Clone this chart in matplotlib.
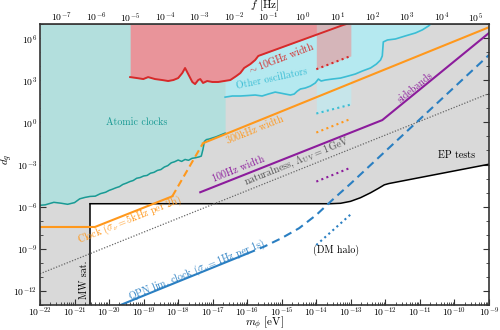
import matplotlib
matplotlib.use("Agg")
import matplotlib.pyplot as plt
import numpy as np
from matplotlib.ticker import LogLocator, FixedLocator, NullFormatter

plt.rcParams.update({
    "font.family": "serif",
    "font.serif": ["cmr10"],
    "mathtext.fontset": "cm",
    "axes.formatter.use_mathtext": True,
    "axes.unicode_minus": False,
    "font.size": 8,
})

# all curves stored as log10(m_phi / eV), log10(d_g)
atomic_m = [-22.0, -21.85, -21.6, -21.4, -21.2, -21.0, -20.85, -20.7, -20.55, -20.4,
            -20.25, -20.1, -20.0, -19.9, -19.8, -19.7, -19.6, -19.5, -19.4, -19.3,
            -19.2, -19.1, -19.0, -18.9, -18.8, -18.7, -18.6, -18.5, -18.4, -18.3,
            -18.2, -18.1, -18.0, -17.9, -17.8, -17.7, -17.6, -17.5, -17.4, -17.33,
            -17.28, -17.24, -17.18, -17.1, -17.0, -16.9, -16.8, -16.7, -16.64]
atomic_d = [-5.91, -5.88, -5.70, -5.76, -5.84, -5.72, -5.45, -5.35, -5.28, -5.26,
            -5.08, -4.98, -4.85, -4.76, -4.66, -4.58, -4.42, -4.33, -4.22, -4.14,
            -3.98, -3.93, -3.82, -3.78, -3.62, -3.56, -3.42, -3.36, -3.18, -3.08,
            -2.88, -2.80, -2.68, -2.78, -2.64, -2.70, -2.56, -2.52, -2.46, -2.40,
            -1.90, -1.35, -1.22, -1.18, -1.10, -1.02, -0.92, -0.82, -0.76]

ghz_m = [-19.39, -19.19, -19.01, -18.87, -18.67, -18.46, -18.29, -18.14, -18.0, -17.88,
         -17.80, -17.71, -17.59, -17.51, -17.42, -17.36, -17.28, -17.16, -17.01, -16.84,
         -16.67, -16.49, -16.32, -16.20, -16.09, -16.0, -15.91, -15.77, -15.68, -13.22, -13.1]
ghz_d = [3.24, 3.17, 3.10, 3.24, 3.10, 3.03, 2.96, 3.03, 3.17, 3.53,
         3.89, 3.46, 2.89, 2.74, 3.03, 3.10, 2.82, 2.96, 2.89, 2.89,
         2.96, 3.03, 3.31, 3.53, 3.89, 4.03, 4.17, 4.46, 4.75, 6.96, 7.05]

osc_m = [-16.64, -16.43, -16.20, -16.0, -15.77, -15.57, -15.39, -15.19, -15.04, -14.90,
         -14.75, -14.64, -14.55, -14.46, -14.32, -14.17, -14.03, -13.94, -13.86, -13.74,
         -13.54, -13.30, -13.07, -12.87, -12.67, -12.43, -12.26, -12.14, -12.09, -12.06,
         -11.94, -11.71, -11.42, -11.13, -10.93, -10.75, -10.68]
osc_d = [1.81, 1.89, 1.89, 1.92, 1.96, 1.89, 2.03, 2.17, 2.10, 2.03,
         1.96, 2.03, 2.24, 2.39, 2.46, 2.60, 2.82, 3.10, 2.96, 3.03,
         3.10, 3.17, 3.32, 3.46, 3.67, 3.89, 4.17, 4.46, 4.75, 5.75,
         5.89, 5.96, 6.18, 6.39, 6.61, 6.89, 7.05]

clock_m = [-22.0, -20.41, -18.17]
clock_d = [-7.46, -7.46, -5.27]
clock_gap_m = [-18.17, -17.28]
clock_gap_d = [-5.27, -1.48]
khz300_m = [-17.28, -9.0]
khz300_d = [-1.48, 6.80]

hz100_m = [-17.36, -12.09, -9.0]
hz100_d = [-4.98, 0.17, 6.39]

qpn_m = [-19.8, -16.0]
qpn_d = [-13.16, -9.36]
qpn_ext_m = [-16.0, -15.5, -15.0, -14.5, -14.0, -13.5, -13.0, -12.5, -9.0]
qpn_ext_d = [-9.36, -8.85, -8.25, -7.55, -6.60, -5.45, -4.35, -3.20, 4.82]

natural_m = [-22.0, -9.0]
natural_d = [-10.8, 2.07]

mw_sat_m = -20.55
ep_m = [-20.55, -13.59, -13.30, -13.01, -12.72, -12.43, -12.20, -12.03, -11.90, -9.0]
ep_d = [-5.80, -5.80, -5.77, -5.63, -5.37, -5.02, -4.70, -4.45, -4.36, -2.98]

# DM-halo projections between 1e-14 and 1e-13 eV
halo_m = [-14.0, -13.0]
halo_ghz_d = [3.80, 4.75]
halo_osc_d = [0.64, 1.28]
halo_khz_d = [-0.72, 0.26]
halo_hz_d = [-4.22, -3.22]
halo_qpn_d = [-8.75, -6.55]

GRAY = "#d9d9d9"
TEAL_FILL, TEAL = "#b3dfdd", "#1a9a94"
RED_FILL, RED = "#e9949a", "#d62a2a"
CYAN_FILL, CYAN = "#b5e9f0", "#3cbdd4"
ORANGE = "#ff981c"
PURPLE = "#8c1c9c"
BLUE = "#2a7fc2"


def p(v):
    return np.power(10.0, np.asarray(v, dtype=float))


fig = plt.figure(figsize=(5, 3.3), dpi=100)
ax = fig.add_axes([0.08, 0.077, 0.898, 0.849])
ax.set_xscale("log")
ax.set_yscale("log")
ax.set_xlim(1e-22, 1e-9)
ax.set_ylim(1e-13, 1e7)

# excluded region: MW satellites on the left, EP tests elsewhere
gx = np.concatenate([[-22.0, mw_sat_m], ep_m, [-9.0, -22.0]])
gy = np.concatenate([[-13.0, -13.0], ep_d, [7.0, 7.0]])
ax.fill(p(gx), p(gy), color=GRAY, lw=0, zorder=1)

ax.fill_between(p(atomic_m), p(atomic_d), 1e7, color=TEAL_FILL, lw=0, zorder=2)
ax.fill_between(p(halo_m), p(halo_osc_d), 1e7, color="#c6e5ea", lw=0, zorder=2)
ax.fill_between(p(osc_m), p(osc_d), 1e7, color=CYAN_FILL, lw=0, zorder=3)
ax.fill_between(p(ghz_m), p(ghz_d), 1e7, color=RED_FILL, lw=0, zorder=4)
ax.fill_between(p(halo_m), p(halo_ghz_d), 1e7, color="#d5b5b9", lw=0, zorder=5)

ax.plot(p(atomic_m), p(atomic_d), color=TEAL, lw=1.1, zorder=6)
ax.plot(p(ghz_m), p(ghz_d), color=RED, lw=1.4, zorder=6)
ax.plot(p(osc_m), p(osc_d), color=CYAN, lw=1.2, zorder=6)

ax.plot(p(ep_m), p(ep_d), color="black", lw=1.1, zorder=6)
ax.plot(p([mw_sat_m, mw_sat_m]), p([-13.0, ep_d[0]]), color="black", lw=1.1, zorder=6)

ax.plot(p(natural_m), p(natural_d), color="#666666", lw=0.9, ls=(0, (1, 1.3)), zorder=6)

ax.plot(p(clock_m), p(clock_d), color=ORANGE, lw=1.5, zorder=7)
ax.plot(p(clock_gap_m), p(clock_gap_d), color=ORANGE, lw=1.5, ls=(0, (3.5, 2)), zorder=7)
ax.plot(p(khz300_m), p(khz300_d), color=ORANGE, lw=1.5, zorder=7)

ax.plot(p(hz100_m), p(hz100_d), color=PURPLE, lw=1.5, zorder=7)

ax.plot(p(qpn_m), p(qpn_d), color=BLUE, lw=1.5, zorder=7)
ax.plot(p(qpn_ext_m), p(qpn_ext_d), color=BLUE, lw=1.5, ls=(0, (4, 2.5)), zorder=7)

dots = (0, (1, 1.6))
for dd, c in [(halo_ghz_d, RED), (halo_osc_d, CYAN), (halo_khz_d, ORANGE),
              (halo_hz_d, PURPLE), (halo_qpn_d, BLUE)]:
    ax.plot(p(halo_m), p(dd), color=c, lw=1.5, ls=dots, zorder=7)

fs = 7.2
ax.text(p(-19.19), p(0.03), "Atomic clocks", color=TEAL, fontsize=fs, ha="center", va="center", zorder=8)
ax.text(p(-15.04), p(4.68), r"$\sim$10GHz width", color=RED, fontsize=fs, rotation=21,
        ha="center", va="center", rotation_mode="anchor", zorder=8)
ax.text(p(-15.30), p(3.10), "Other oscillators", color=CYAN, fontsize=fs, rotation=12,
        ha="center", va="center", rotation_mode="anchor", zorder=8)
ax.text(p(-15.77), p(-0.55), "300kHz width", color=ORANGE, fontsize=fs, rotation=22,
        ha="center", va="center", rotation_mode="anchor", zorder=8)
ax.text(p(-16.25), p(-3.30), "100Hz width", color=PURPLE, fontsize=fs, rotation=22,
        ha="center", va="center", rotation_mode="anchor", zorder=8)
ax.text(p(-14.55), p(-2.80), r"naturalness, $\Lambda_{\rm UV} = 1\,$GeV", color="#555555",
        fontsize=fs, rotation=22, ha="center", va="center", rotation_mode="anchor", zorder=8)
ax.text(p(-11.13), p(2.53), "sidebands", color=PURPLE, fontsize=fs, rotation=39,
        ha="center", va="center", rotation_mode="anchor", zorder=8)
ax.text(p(-9.94), p(-2.34), "EP tests", color="black", fontsize=fs, ha="center", va="center", zorder=8)
ax.text(p(-19.42), p(-6.98), r"Clock ($\sigma_\nu = 5$kHz per 2h)", color=ORANGE, fontsize=fs,
        rotation=22, ha="center", va="center", rotation_mode="anchor", zorder=8)
ax.text(p(-20.72), p(-11.2), "MW sat.", color="black", fontsize=fs, rotation=90,
        ha="center", va="center", zorder=8)
ax.text(p(-17.45), p(-10.56), r"QPN lim. clock ($\sigma_\nu = 1$Hz per 1s)", color=BLUE,
        fontsize=fs, rotation=22, ha="center", va="center", rotation_mode="anchor", zorder=8)
ax.text(p(-13.42), p(-9.13), "(DM halo)", color="black", fontsize=fs, ha="center", va="center", zorder=8)

# axes, ticks
ax.xaxis.set_major_locator(LogLocator(base=10, numticks=30))
ax.xaxis.set_minor_locator(LogLocator(base=10, subs=np.arange(2, 10), numticks=30))
ax.xaxis.set_minor_formatter(NullFormatter())
ax.yaxis.set_major_locator(FixedLocator(p(np.arange(-12, 7, 3))))
ax.yaxis.set_minor_locator(FixedLocator(p(np.arange(-13, 8))))
ax.yaxis.set_minor_formatter(NullFormatter())
ax.tick_params(which="both", direction="in", top=False, right=True, labelsize=7,
               color="#333333", pad=2)
ax.tick_params(axis="x", which="both", pad=0.6)
ax.tick_params(which="major", length=4, width=0.8)
ax.tick_params(which="minor", length=2, width=0.6)
for s in ax.spines.values():
    s.set_linewidth(1.2)
    s.set_color("#333333")
    s.set_zorder(10)

ax.set_xlabel(r"$m_\phi$ [eV]", fontsize=8, va="center")
ax.xaxis.set_label_coords(0.5, -0.068)
ax.set_ylabel(r"$d_g$", fontsize=8)
ax.yaxis.set_label_coords(-0.055, 0.52)

h_ev = 4.135667e-15
top = ax.secondary_xaxis("top", functions=(lambda m: m / h_ev, lambda f: f * h_ev))
top.xaxis.set_major_locator(LogLocator(base=10, numticks=30))
top.xaxis.set_minor_locator(LogLocator(base=10, subs=np.arange(2, 10), numticks=30))
top.xaxis.set_minor_formatter(NullFormatter())
top.tick_params(which="both", direction="in", labelsize=7, color="#333333", pad=0.6)
top.tick_params(which="major", length=4, width=0.8)
top.tick_params(which="minor", length=2, width=0.6)
top.set_xlabel(r"$f$ [Hz]", fontsize=8, va="center")
top.xaxis.set_label_coords(0.5, 1.07, transform=ax.transAxes)

fig.savefig("out.png", dpi=100)
